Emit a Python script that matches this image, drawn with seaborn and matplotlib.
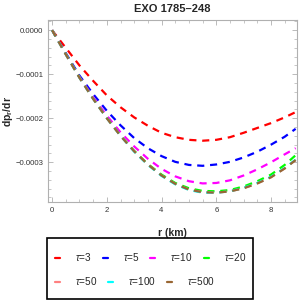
import numpy as np
import pandas as pd
import matplotlib
matplotlib.use("Agg")
import matplotlib.pyplot as plt
from matplotlib.ticker import MultipleLocator
from matplotlib.patches import Rectangle
import seaborn as sns

# radial positions (km)
r_km = [0, 0.5, 1, 1.5, 2, 2.5, 3, 3.5, 4, 4.5, 5, 5.5, 6, 6.5, 7, 7.5, 8, 8.5, 8.9]

# dp_r/dr (units of 1e-4)
tau3 = [0, -0.40, -0.80, -1.15, -1.48, -1.75, -1.98, -2.17, -2.33, -2.43, -2.49, -2.51, -2.49, -2.43, -2.33, -2.22, -2.11, -1.98, -1.86]
tau5 = [0, -0.52, -1.03, -1.45, -1.83, -2.16, -2.45, -2.68, -2.86, -2.99, -3.06, -3.08, -3.05, -2.99, -2.89, -2.76, -2.60, -2.42, -2.24]
tau10 = [0, -0.54, -1.06, -1.52, -1.94, -2.32, -2.64, -2.92, -3.15, -3.32, -3.43, -3.48, -3.47, -3.41, -3.30, -3.16, -3.00, -2.82, -2.68]
tau20 = [0, -0.54, -1.07, -1.55, -1.99, -2.39, -2.74, -3.04, -3.28, -3.47, -3.59, -3.65, -3.66, -3.63, -3.55, -3.43, -3.28, -3.06, -2.84]
tau50 = [0, -0.55, -1.08, -1.56, -2.00, -2.40, -2.75, -3.05, -3.30, -3.49, -3.62, -3.68, -3.69, -3.66, -3.59, -3.48, -3.34, -3.14, -2.95]
tau100 = [0, -0.55, -1.08, -1.56, -2.00, -2.40, -2.76, -3.06, -3.31, -3.50, -3.63, -3.69, -3.69, -3.66, -3.58, -3.47, -3.33, -3.13, -2.94]
tau500 = [0, -0.55, -1.08, -1.56, -2.00, -2.40, -2.75, -3.05, -3.30, -3.49, -3.62, -3.68, -3.69, -3.66, -3.59, -3.48, -3.34, -3.14, -2.95]

labels = [r'$\tau$=3', r'$\tau$=5', r'$\tau$=10', r'$\tau$=20',
          r'$\tau$=50', r'$\tau$=100', r'$\tau$=500']
colors = ['#ff0000', '#0000ff', '#ff00ff', '#00ff00', '#ff8080', '#00ffff', '#996633']

series = [tau3, tau5, tau10, tau20, tau50, tau100, tau500]
rows = []
for lab, vals in zip(labels, series):
    for r, v in zip(r_km, vals):
        rows.append({'r': r, 'dp': v * 1e-4, 'tau': lab})
df = pd.DataFrame(rows)

sns.set_style("ticks")
plt.rcParams['font.family'] = ['Liberation Sans', 'DejaVu Sans']
plt.rcParams['mathtext.fontset'] = 'custom'
plt.rcParams['mathtext.rm'] = 'Liberation Sans'
plt.rcParams['mathtext.it'] = 'Liberation Sans:italic'
plt.rcParams['mathtext.bf'] = 'Liberation Sans:bold'

fig = plt.figure(figsize=(3, 3), dpi=100)
ax = fig.add_axes([0.16, 0.327, 0.83, 0.606])

sns.lineplot(data=df, x='r', y='dp', hue='tau', hue_order=labels,
             palette=dict(zip(labels, colors)), ax=ax, legend=False,
             linewidth=1.6)
for ln in ax.get_lines():
    ln.set_dashes([3.2, 2.6])

ax.set_xlim(-0.15, 8.95)
ax.set_ylim(-0.00039, 0.000023)
ax.xaxis.set_major_locator(MultipleLocator(2))
ax.xaxis.set_minor_locator(MultipleLocator(0.5))
ax.yaxis.set_major_locator(MultipleLocator(0.0001))
ax.yaxis.set_minor_locator(MultipleLocator(0.00002))
ax.yaxis.set_major_formatter(matplotlib.ticker.FuncFormatter(
    lambda v, p: ('%.4f' % v).replace('-', '\u2212') if abs(v) > 1e-9 else '0.0000'))

for s in ax.spines.values():
    s.set_color('#b0b0b0')
    s.set_linewidth(0.8)
ax.tick_params(which='both', direction='in', top=True, right=True,
               color='#b0b0b0', labelsize=5.6, labelcolor='#333333')
ax.tick_params(which='major', length=3.5, width=0.6)
ax.tick_params(which='minor', length=2, width=0.5)

ax.set_title('EXO 1785\u2013248', fontsize=8, fontweight='bold', pad=6)
ax.set_xlabel('r (km)', fontsize=7.5, fontweight='bold', labelpad=10)
ax.set_ylabel(r'$\mathbf{dp_r/dr}$', fontsize=7.5)
ax.yaxis.set_label_coords(-0.133, 0.5)

# legend laid out as two free-flowing rows inside one black frame
def row_legend(idx, y):
    hs = [plt.Line2D([], [], color=colors[i], lw=1.6) for i in idx]
    lg = fig.legend(hs, [labels[i] for i in idx], ncol=len(idx),
                    loc='center left', bbox_to_anchor=(55 / 300, 1 - y / 300),
                    fontsize=7.2, handlelength=0.5, handletextpad=1.5,
                    columnspacing=1.1, borderpad=0, borderaxespad=0,
                    frameon=False)
    return lg

row_legend([0, 1, 2, 3], 257)
row_legend([4, 5, 6], 281)
fig.patches.append(Rectangle((47 / 300, 1 / 300), 206 / 300, 61 / 300,
                             transform=fig.transFigure, fill=False,
                             edgecolor='black', linewidth=1.2))

fig.savefig('out.png', dpi=100)
